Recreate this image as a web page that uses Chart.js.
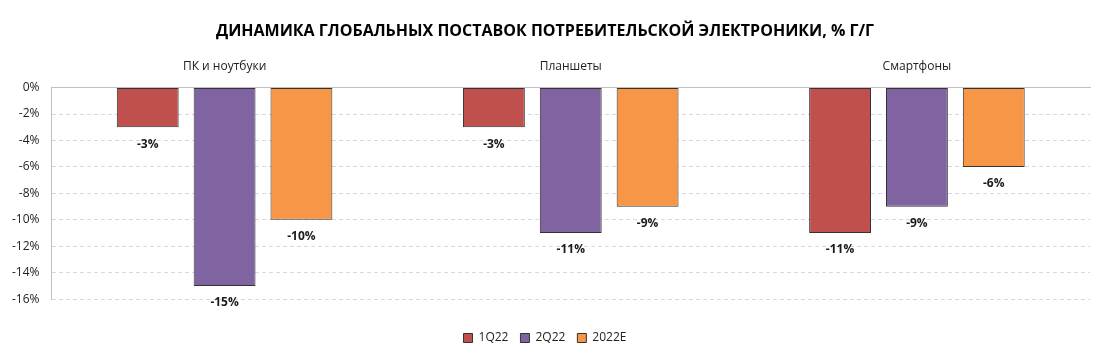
<!DOCTYPE html>
<html>
<head>
<meta charset="utf-8">
<script src="https://cdn.jsdelivr.net/npm/chart.js@4"></script>
<style>
  html, body { margin: 0; padding: 0; background: #fff; }
  #wrap { width: 1094px; height: 363px; }
</style>
</head>
<body>
<div id="wrap"><canvas id="shipChart" width="1094" height="363"></canvas></div>
<script>
// категории и значения, % г/г
const categories = ["ПК и ноутбуки", "Планшеты", "Смартфоны"];
const q1_22 = [-3, -3, -11];
const q2_22 = [-15, -11, -9];
const e2022 = [-10, -9, -6];
const yTicks = [0, -2, -4, -6, -8, -10, -12, -14, -16];

const FONT = "'Open Sans', 'DejaVu Sans', sans-serif";

// подписи значений под столбцами
const barLabels = {
  id: "barLabels",
  afterDatasetsDraw(chart) {
    const ctx = chart.ctx;
    ctx.save();
    ctx.font = "bold 12px " + FONT;
    ctx.fillStyle = "#1a1a1a";
    ctx.textAlign = "center";
    ctx.textBaseline = "top";
    chart.data.datasets.forEach((ds, i) => {
      chart.getDatasetMeta(i).data.forEach((bar, j) => {
        ctx.fillText(ds.data[j] + "%", bar.x, bar.y + 11);
      });
    });
    ctx.restore();
  },
};

const ctx = document.getElementById("shipChart").getContext("2d");
new Chart(ctx, {
  type: "bar",
  data: {
    labels: categories,
    datasets: [
      { label: "1Q22", data: q1_22, backgroundColor: "#C0504D" },
      { label: "2Q22", data: q2_22, backgroundColor: "#8064A2" },
      { label: "2022E", data: e2022, backgroundColor: "#F79646" },
    ].map((d) => Object.assign(d, {
      borderColor: "#333333",
      borderWidth: 1,
      borderSkipped: false,
      categoryPercentage: 0.666,
      barPercentage: 0.805,
    })),
  },
  options: {
    responsive: false,
    animation: false,
    layout: { padding: { left: 0, right: 4, top: 0, bottom: 9 } },
    plugins: {
      title: {
        display: true,
        text: "ДИНАМИКА ГЛОБАЛЬНЫХ ПОСТАВОК ПОТРЕБИТЕЛЬСКОЙ ЭЛЕКТРОНИКИ, % Г/Г",
        color: "#000",
        font: { family: FONT, size: 16, weight: "bold" },
        padding: { top: 22, bottom: 12 },
      },
      legend: {
        position: "bottom",
        title: {
          display: true,
          text: " ",
          font: { size: 4 },
          padding: { top: 16, bottom: 0 },
        },
        labels: {
          color: "#222",
          font: { family: FONT, size: 12 },
          boxWidth: 9,
          boxHeight: 9,
          padding: 12,
        },
      },
      tooltip: { enabled: false },
    },
    scales: {
      x: {
        position: "top",
        grid: { display: false },
        border: { color: "#bfbfbf" },
        ticks: { color: "#222", font: { family: FONT, size: 12 }, padding: 6 },
      },
      y: {
        min: -16,
        max: 0,
        afterBuildTicks: (axis) => { axis.ticks = yTicks.map((v) => ({ value: v })); },
        grid: { color: "#d9d9d9", drawTicks: false },
        border: { color: "#bfbfbf", dash: [4, 3] },
        ticks: {
          color: "#222",
          font: { family: FONT, size: 12 },
          padding: 12,
          callback: (v) => v + "%",
        },
      },
    },
  },
  plugins: [barLabels],
});
</script>
</body>
</html>
